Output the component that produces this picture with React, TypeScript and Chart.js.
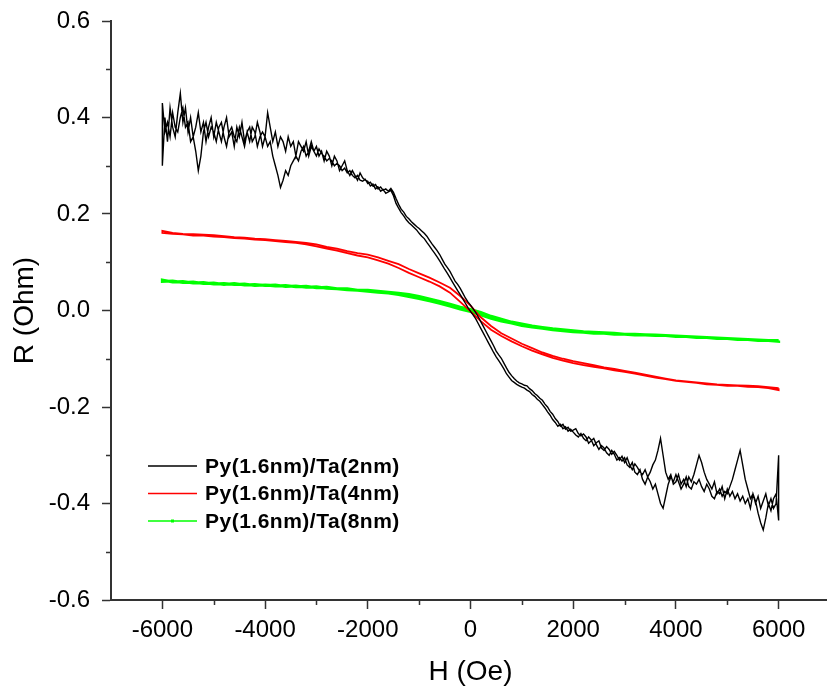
import React, { useEffect, useRef } from 'react';
import { Chart, registerables } from 'chart.js';

Chart.register(...registerables);

// ---------- data ----------
const seriesLabels: string[] = ['Py(1.6nm)/Ta(2nm)', 'Py(1.6nm)/Ta(4nm)', 'Py(1.6nm)/Ta(8nm)'];
const seriesColors: string[] = ['#000000', '#ff0000', '#00ff00'];

// field sweep points (Oe)
const fieldFine: number[] = Array.from({ length: 241 }, (_, i) => -6000 + i * 50);
const fieldCoarse: number[] = Array.from({ length: 61 }, (_, i) => -6000 + i * 200);

// Py(1.6nm)/Ta(2nm): ascending-field branch (values at fieldFine, one row = 1000 Oe)
const blackUp: number[] = [
  0.30, 0.40, 0.35, 0.42, 0.38, 0.36, 0.41, 0.45, 0.39, 0.42, 0.37, 0.40, 0.36, 0.38, 0.41, 0.37, 0.39, 0.35, 0.38, 0.40,
  0.36, 0.39, 0.37, 0.35, 0.38, 0.40, 0.36, 0.37, 0.34, 0.38, 0.36, 0.39, 0.35, 0.37, 0.38, 0.35, 0.36, 0.39, 0.37, 0.34,
  0.36, 0.41, 0.38, 0.35, 0.37, 0.34, 0.36, 0.35, 0.33, 0.36, 0.34, 0.35, 0.32, 0.35, 0.34, 0.33, 0.35, 0.32, 0.34, 0.33,
  0.34, 0.32, 0.33, 0.31, 0.33, 0.32, 0.30, 0.32, 0.31, 0.29, 0.30, 0.31, 0.29, 0.28, 0.29, 0.28, 0.27, 0.285, 0.275, 0.27,
  0.268, 0.258, 0.262, 0.252, 0.256, 0.247, 0.251, 0.243, 0.246, 0.249, 0.238, 0.222, 0.212, 0.203, 0.196, 0.188, 0.182, 0.177, 0.172, 0.167,
  0.160, 0.154, 0.149, 0.141, 0.134, 0.126, 0.119, 0.111, 0.103, 0.094, 0.085, 0.077, 0.068, 0.059, 0.050, 0.041, 0.033, 0.024, 0.015, 0.006,
  -0.002, -0.009, -0.017, -0.027, -0.037, -0.047, -0.057, -0.067, -0.077, -0.087, -0.096, -0.104, -0.112, -0.121, -0.131, -0.138, -0.145, -0.149, -0.153, -0.156,
  -0.159, -0.161, -0.165, -0.168, -0.174, -0.178, -0.184, -0.188, -0.195, -0.202, -0.21, -0.217, -0.226, -0.232, -0.24, -0.236, -0.245, -0.241, -0.25, -0.246,
  -0.252, -0.258, -0.262, -0.255, -0.265, -0.27, -0.262, -0.268, -0.28, -0.274, -0.27, -0.285, -0.29, -0.282, -0.288, -0.298, -0.292, -0.3, -0.31, -0.302,
  -0.315, -0.305, -0.32, -0.33, -0.318, -0.325, -0.335, -0.34, -0.33, -0.345, -0.335, -0.32, -0.31, -0.29, -0.265, -0.30, -0.335, -0.35, -0.34, -0.36,
  -0.355, -0.34, -0.36, -0.35, -0.365, -0.345, -0.355, -0.34, -0.32, -0.30, -0.315, -0.335, -0.35, -0.36, -0.37, -0.355, -0.38, -0.37, -0.385, -0.375,
  -0.38, -0.365, -0.35, -0.33, -0.31, -0.29, -0.32, -0.35, -0.37, -0.39, -0.38, -0.40, -0.385, -0.41, -0.395, -0.38, -0.405, -0.39, -0.41, -0.40,
  -0.30,
];
// descending-field branch (listed in ascending field order)
const blackDown: number[] = [
  0.43, 0.37, 0.39, 0.36, 0.41, 0.38, 0.37, 0.40, 0.42, 0.38, 0.39, 0.35, 0.36, 0.33, 0.29, 0.32, 0.37, 0.39, 0.36, 0.38,
  0.37, 0.35, 0.38, 0.39, 0.36, 0.34, 0.37, 0.38, 0.36, 0.35, 0.38, 0.36, 0.34, 0.37, 0.35, 0.38, 0.37, 0.34, 0.36, 0.37,
  0.36, 0.34, 0.35, 0.32, 0.30, 0.28, 0.255, 0.27, 0.29, 0.28, 0.30, 0.31, 0.32, 0.31, 0.33, 0.34, 0.32, 0.33, 0.35, 0.33,
  0.32, 0.335, 0.325, 0.32, 0.31, 0.315, 0.31, 0.30, 0.305, 0.30, 0.29, 0.295, 0.285, 0.29, 0.28, 0.275, 0.28, 0.27, 0.268, 0.272,
  0.263, 0.266, 0.258, 0.261, 0.252, 0.256, 0.249, 0.252, 0.247, 0.253, 0.245, 0.232, 0.22, 0.21, 0.204, 0.195, 0.19, 0.184, 0.179, 0.174,
  0.170, 0.165, 0.160, 0.154, 0.146, 0.138, 0.131, 0.124, 0.116, 0.106, 0.096, 0.089, 0.081, 0.071, 0.061, 0.054, 0.046, 0.036, 0.026, 0.018,
  0.011, 0.004, -0.004, -0.013, -0.023, -0.033, -0.043, -0.053, -0.063, -0.073, -0.084, -0.092, -0.099, -0.109, -0.119, -0.128, -0.135, -0.141, -0.146, -0.15,
  -0.152, -0.155, -0.156, -0.162, -0.166, -0.172, -0.176, -0.182, -0.186, -0.194, -0.2, -0.209, -0.215, -0.224, -0.23, -0.24, -0.236, -0.246, -0.242, -0.25,
  -0.248, -0.245, -0.255, -0.26, -0.256, -0.262, -0.275, -0.27, -0.265, -0.278, -0.288, -0.28, -0.285, -0.295, -0.3, -0.29, -0.298, -0.31, -0.305, -0.312,
  -0.305, -0.32, -0.325, -0.315, -0.335, -0.34, -0.33, -0.35, -0.36, -0.345, -0.355, -0.37, -0.36, -0.38, -0.40, -0.41, -0.385, -0.36, -0.345, -0.355,
  -0.34, -0.355, -0.37, -0.36, -0.345, -0.365, -0.37, -0.355, -0.36, -0.35, -0.365, -0.375, -0.36, -0.37, -0.385, -0.39, -0.375, -0.38, -0.365, -0.39,
  -0.37, -0.385, -0.375, -0.39, -0.38, -0.395, -0.385, -0.40, -0.39, -0.41, -0.38, -0.395, -0.42, -0.44, -0.455, -0.43, -0.40, -0.415, -0.39, -0.38,
  -0.435,
];

// Py(1.6nm)/Ta(4nm) (values at fieldCoarse)
const redUp: number[] = [
  0.161, 0.159, 0.158, 0.155, 0.155, 0.153, 0.152, 0.150, 0.149, 0.147,
  0.146, 0.144, 0.142, 0.140, 0.137, 0.133, 0.128, 0.124, 0.119, 0.114,
  0.110, 0.104, 0.097, 0.088, 0.078, 0.069, 0.060, 0.050, 0.037, 0.018,
  -0.002, -0.022, -0.040, -0.053, -0.064, -0.074, -0.083, -0.091, -0.098, -0.104,
  -0.109, -0.113, -0.117, -0.120, -0.124, -0.127, -0.131, -0.135, -0.139, -0.142,
  -0.146, -0.148, -0.150, -0.153, -0.154, -0.156, -0.156, -0.158, -0.159, -0.161,
  -0.165,
];
const redDown: number[] = [
  0.165, 0.161, 0.159, 0.158, 0.157, 0.156, 0.154, 0.152, 0.151, 0.149,
  0.148, 0.146, 0.144, 0.142, 0.140, 0.137, 0.132, 0.128, 0.123, 0.119,
  0.116, 0.110, 0.103, 0.096, 0.086, 0.077, 0.068, 0.058, 0.047, 0.030,
  0.010, -0.014, -0.032, -0.047, -0.058, -0.069, -0.078, -0.087, -0.094, -0.100,
  -0.105, -0.109, -0.113, -0.118, -0.121, -0.125, -0.129, -0.133, -0.137, -0.141,
  -0.145, -0.147, -0.149, -0.151, -0.153, -0.154, -0.155, -0.156, -0.157, -0.159,
  -0.161,
];

// Py(1.6nm)/Ta(8nm) (values at fieldCoarse)
const greenUp: number[] = [
  0.060, 0.061, 0.058, 0.059, 0.056, 0.057, 0.054, 0.056, 0.053, 0.054,
  0.052, 0.053, 0.050, 0.051, 0.048, 0.049, 0.046, 0.045, 0.043, 0.042,
  0.040, 0.038, 0.036, 0.033, 0.029, 0.025, 0.020, 0.015, 0.009, 0.003,
  -0.002, -0.009, -0.016, -0.022, -0.026, -0.031, -0.034, -0.037, -0.040, -0.042,
  -0.044, -0.045, -0.047, -0.047, -0.049, -0.049, -0.051, -0.051, -0.052, -0.052,
  -0.054, -0.054, -0.056, -0.056, -0.058, -0.058, -0.060, -0.060, -0.062, -0.062,
  -0.064,
];
const greenDown: number[] = [
  0.063, 0.059, 0.060, 0.057, 0.058, 0.055, 0.056, 0.054, 0.055, 0.052,
  0.053, 0.051, 0.052, 0.049, 0.050, 0.047, 0.048, 0.045, 0.045, 0.042,
  0.042, 0.040, 0.038, 0.036, 0.033, 0.029, 0.024, 0.019, 0.013, 0.007,
  0.002, -0.004, -0.012, -0.018, -0.024, -0.028, -0.032, -0.035, -0.038, -0.040,
  -0.042, -0.044, -0.045, -0.046, -0.047, -0.049, -0.049, -0.050, -0.051, -0.052,
  -0.053, -0.054, -0.055, -0.056, -0.057, -0.058, -0.059, -0.060, -0.061, -0.062,
  -0.062,
];

// axes
const xMajorTicks: number[] = [-6000, -4000, -2000, 0, 2000, 4000, 6000];
const xMinorTicks: number[] = [-5000, -3000, -1000, 1000, 3000, 5000];
const yMajorTicks: number[] = [-0.6, -0.4, -0.2, 0, 0.2, 0.4, 0.6];
const yMinorTicks: number[] = [-0.5, -0.3, -0.1, 0.1, 0.3, 0.5];
const xTitle = 'H (Oe)';
const yTitle = 'R (Ohm)';

// ---------- helpers ----------
const FONT = "'Liberation Sans', Arial, sans-serif";
const AXIS = '#333333';

function loop(fields: number[], down: number[], up: number[]) {
  const d = down.map((y, i) => ({ x: fields[i], y })).reverse();
  const u = up.map((y, i) => ({ x: fields[i], y }));
  return [...d, ...u, d[0]];
}

const decorPlugin = {
  id: 'decor',
  afterDraw(chart: any) {
    const { ctx, chartArea, scales } = chart;
    const xs = scales.x;
    const ys = scales.y;
    ctx.save();
    // minor ticks
    ctx.strokeStyle = AXIS;
    ctx.lineWidth = 1.5;
    ctx.beginPath();
    for (const v of xMinorTicks) {
      const px = Math.round(xs.getPixelForValue(v)) + 0.5;
      ctx.moveTo(px, chartArea.bottom);
      ctx.lineTo(px, chartArea.bottom + 5);
    }
    for (const v of yMinorTicks) {
      const py = Math.round(ys.getPixelForValue(v)) + 0.5;
      ctx.moveTo(chartArea.left, py);
      ctx.lineTo(chartArea.left - 5, py);
    }
    ctx.stroke();

    // axis titles
    ctx.fillStyle = '#000';
    ctx.font = `28px ${FONT}`;
    ctx.textAlign = 'center';
    ctx.textBaseline = 'middle';
    ctx.fillText(xTitle, (chartArea.left + chartArea.right) / 2, chartArea.bottom + 72);
    ctx.save();
    ctx.translate(25, (chartArea.top + chartArea.bottom) / 2);
    ctx.rotate(-Math.PI / 2);
    ctx.fillText(yTitle, 0, 0);
    ctx.restore();

    // legend
    ctx.font = `bold 21px ${FONT}`;
    try { (ctx as any).letterSpacing = '0.5px'; } catch (e) { /* ignore */ }
    ctx.textAlign = 'left';
    chart.data.datasets.forEach((ds: any, i: number) => {
      const y = chartArea.top + 445 + i * 27.5;
      const x0 = chartArea.left + 37;
      const x1 = chartArea.left + 86;
      ctx.strokeStyle = ds.borderColor;
      ctx.lineWidth = 1.5;
      ctx.beginPath();
      ctx.moveTo(x0, y);
      ctx.lineTo(x1, y);
      ctx.stroke();
      if (i === 2) {
        ctx.fillStyle = ds.borderColor;
        ctx.fillRect((x0 + x1) / 2 - 1.5, y - 1.5, 3, 3);
      }
      ctx.fillStyle = '#000';
      ctx.fillText(ds.label, chartArea.left + 94, y + 1);
    });
    ctx.restore();
  },
};

export default function App() {
  const ref = useRef<HTMLCanvasElement>(null);

  useEffect(() => {
    if (!ref.current) return;
    const chart = new Chart(ref.current, {
      type: 'line',
      data: {
        datasets: [
          {
            label: seriesLabels[0],
            data: loop(fieldFine, blackDown, blackUp),
            borderColor: seriesColors[0],
            borderWidth: 1.4,
          },
          {
            label: seriesLabels[1],
            data: loop(fieldCoarse, redDown, redUp),
            borderColor: seriesColors[1],
            borderWidth: 1.8,
          },
          {
            label: seriesLabels[2],
            data: loop(fieldCoarse, greenDown, greenUp),
            borderColor: seriesColors[2],
            borderWidth: 3,
          },
        ],
      },
      options: {
        animation: false,
        responsive: false,
        devicePixelRatio: 1,
        layout: { padding: { top: 21, right: 2, left: 0, bottom: 0 } },
        plugins: { legend: { display: false }, tooltip: { enabled: false } },
        elements: { point: { radius: 0 }, line: { tension: 0 } },
        scales: {
          x: {
            type: 'linear',
            min: -7000,
            max: 7000,
            afterBuildTicks: (axis: any) => {
              axis.ticks = xMajorTicks.map((v) => ({ value: v }));
            },
            afterFit: (scale: any) => {
              scale.height = 90;
              scale.paddingLeft = 0;
              scale.paddingRight = 0;
            },
            ticks: {
              autoSkip: false,
              maxRotation: 0,
              padding: 7,
              color: '#000',
              font: { family: FONT, size: 24 },
              callback: (v: any) => String(v),
            },
            grid: {
              drawOnChartArea: false,
              drawTicks: true,
              tickLength: 9,
              tickWidth: 1.5,
              tickColor: AXIS,
            },
            border: { display: true, color: AXIS, width: 2 },
          },
          y: {
            type: 'linear',
            min: -0.6,
            max: 0.6,
            afterBuildTicks: (axis: any) => {
              axis.ticks = yMajorTicks.map((v) => ({ value: v }));
            },
            afterFit: (scale: any) => {
              scale.width = 111;
              scale.paddingTop = 0;
              scale.paddingBottom = 0;
            },
            ticks: {
              autoSkip: false,
              padding: 12,
              color: '#000',
              font: { family: FONT, size: 24 },
              callback: (v: any) => Number(v).toFixed(1),
            },
            grid: {
              drawOnChartArea: false,
              drawTicks: true,
              tickLength: 9,
              tickWidth: 1.5,
              tickColor: AXIS,
            },
            border: { display: true, color: AXIS, width: 2 },
          },
        },
      } as any,
      plugins: [decorPlugin],
    });
    return () => chart.destroy();
  }, []);

  return (
    <div
      style={{
        position: 'fixed',
        left: 0,
        top: 0,
        width: 827,
        height: 690,
        overflow: 'hidden',
        background: '#fff',
      }}
    >
      <canvas ref={ref} width={832} height={690} style={{ display: 'block', width: 832, height: 690 }} />
    </div>
  );
}
